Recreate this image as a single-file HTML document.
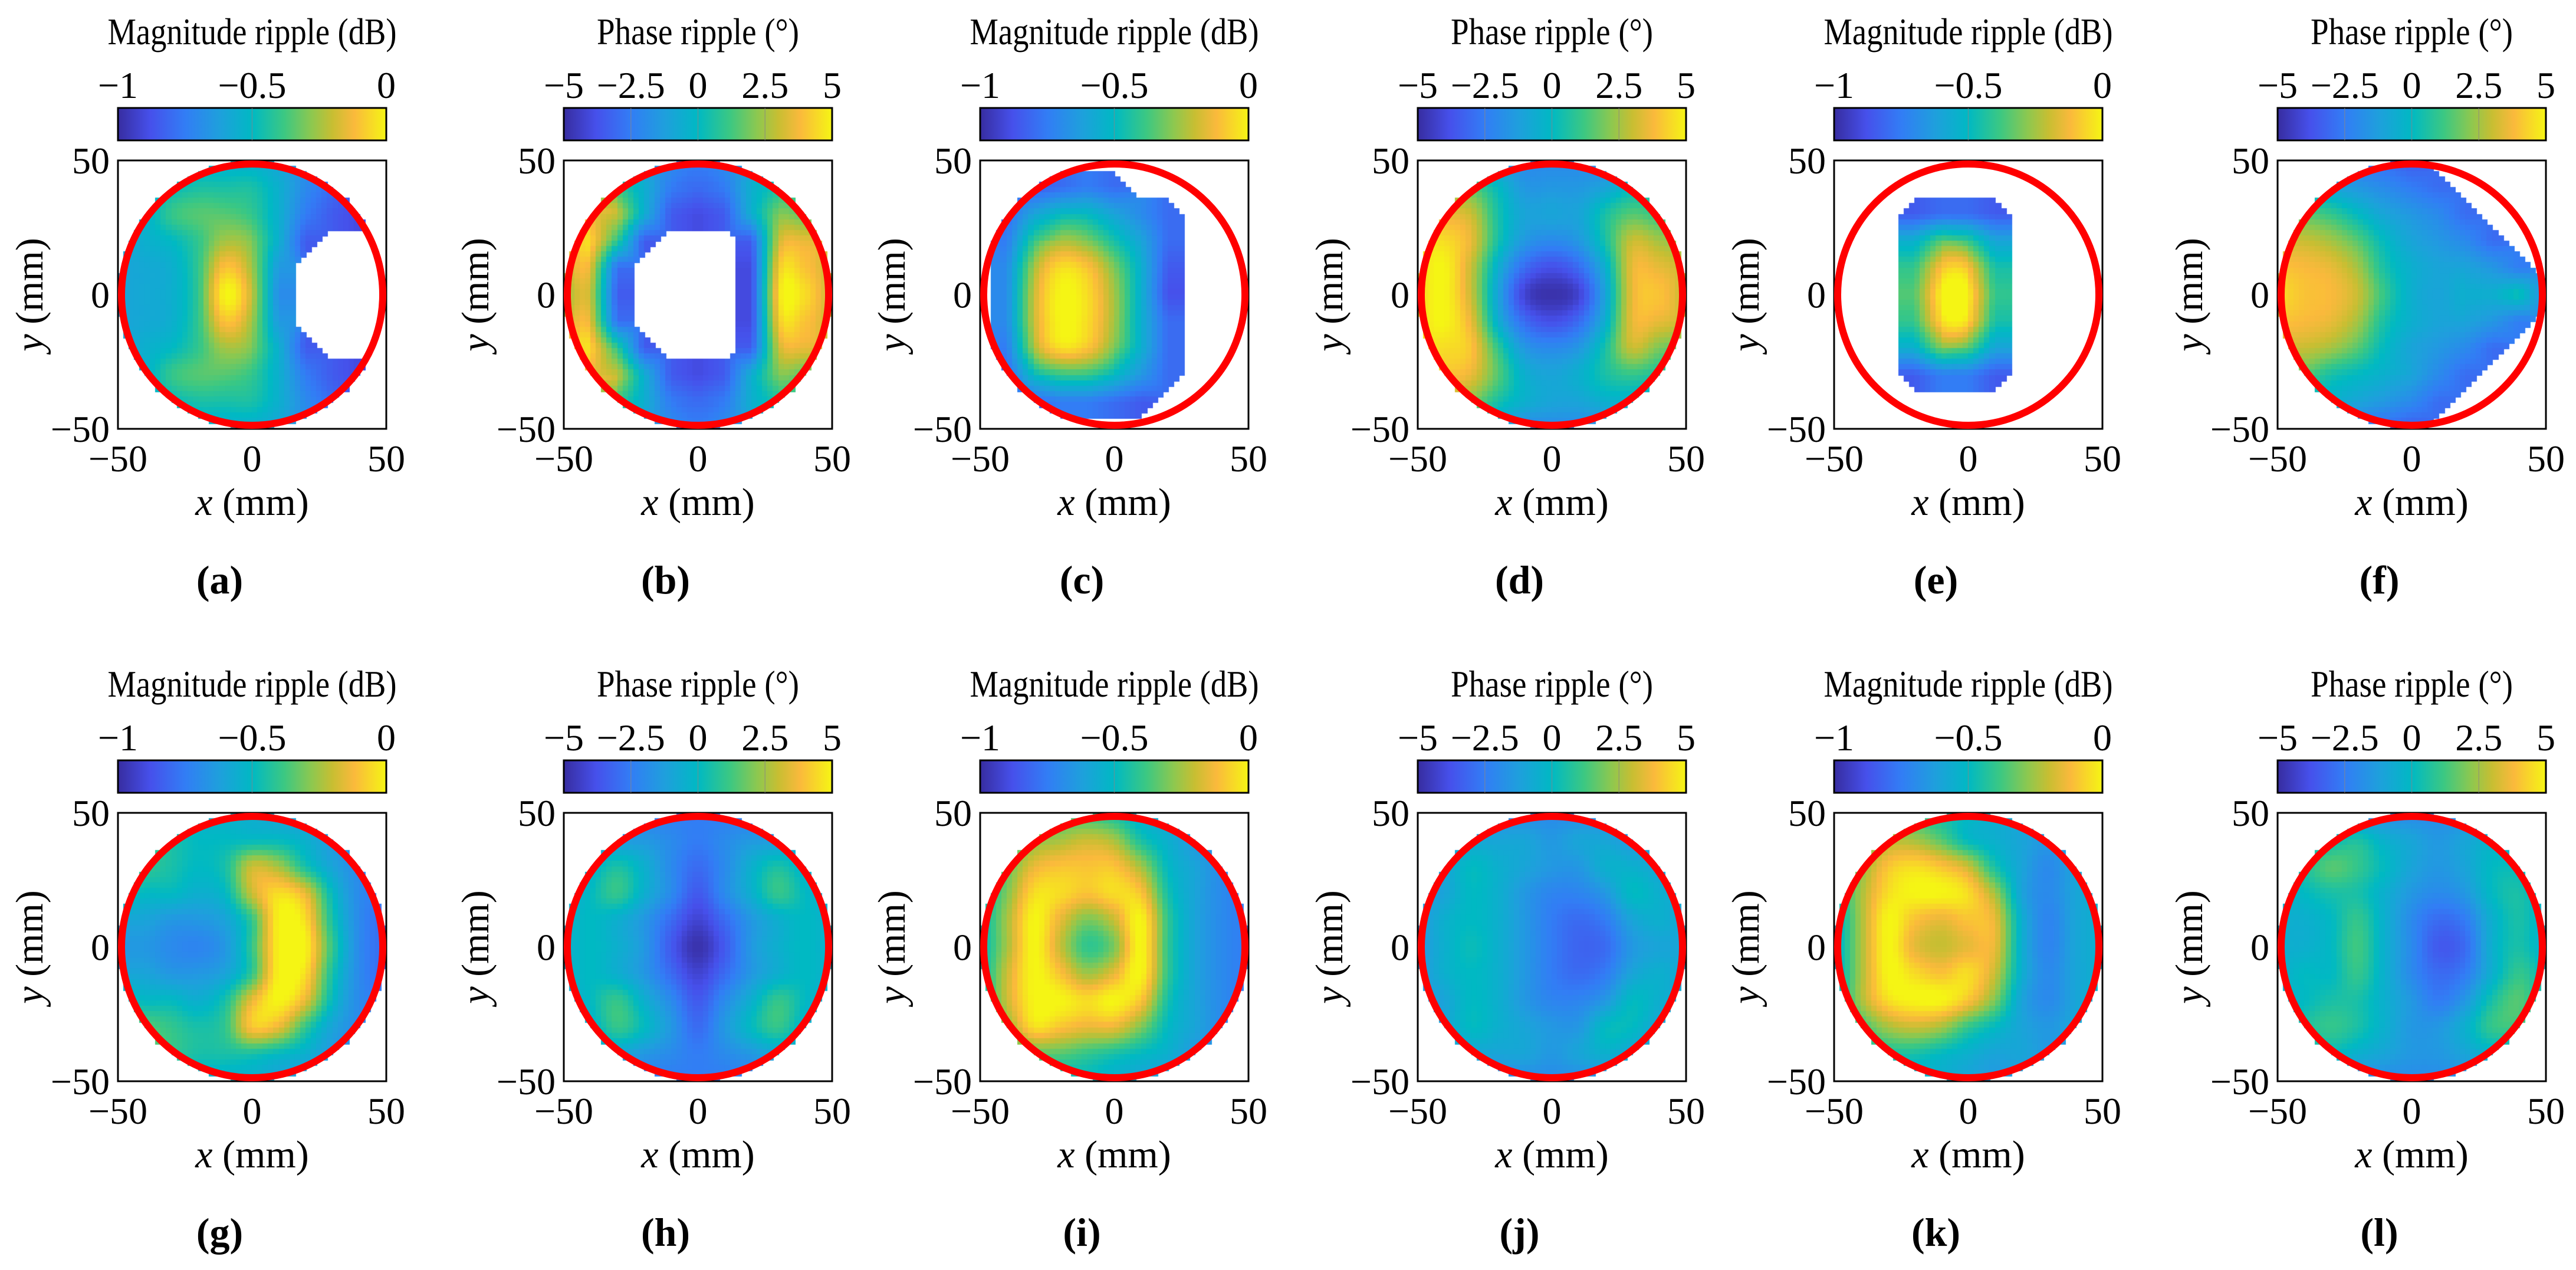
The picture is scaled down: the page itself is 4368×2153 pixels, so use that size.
<!DOCTYPE html>
<html><head><meta charset="utf-8">
<style>
html,body{margin:0;padding:0;background:#fff;}
#wrap{position:relative;width:4368px;height:2153px;overflow:hidden;background:#fff;}
canvas{position:absolute;z-index:1;}
svg{position:absolute;left:0;top:0;z-index:2;}
text{font-family:"Liberation Serif",serif;fill:#000;}
</style></head>
<body>
<div id="wrap">
<svg id="svg" width="4368" height="2153" viewBox="0 0 4368 2153">
<defs>
<linearGradient id="parula" x1="0" y1="0" x2="1" y2="0">
<stop offset="0" stop-color="rgb(55,45,160)"/>
<stop offset="0.12" stop-color="rgb(70,80,235)"/>
<stop offset="0.25" stop-color="rgb(50,125,245)"/>
<stop offset="0.38" stop-color="rgb(30,160,220)"/>
<stop offset="0.5" stop-color="rgb(0,185,195)"/>
<stop offset="0.62" stop-color="rgb(60,200,130)"/>
<stop offset="0.72" stop-color="rgb(140,200,80)"/>
<stop offset="0.8" stop-color="rgb(200,190,50)"/>
<stop offset="0.88" stop-color="rgb(250,185,60)"/>
<stop offset="1" stop-color="rgb(245,245,20)"/>
</linearGradient>
</defs>
</svg>
</div>
<script>
const _ = null;
// Grids: fraction of colour range (0 = colorbar min, 1 = colorbar max); x = -50..50 step 10, rows y = 50..-50
const gridA = [
[.35,.35,.4,.45,.45,.45,.4,.3,.25,.2,.2],
[.35,.4,.5,.55,.55,.55,.45,.3,.2,.15,.15],
[.4,.45,.6,.65,.65,.6,.45,.25,.15,.1,.1],
[.4,.45,.5,.6,.75,.7,.45,.15,_,_,_],
[.4,.42,.45,.6,.9,.75,.35,_,_,_,_],
[.4,.42,.45,.6,1,.8,.3,_,_,_,_],
[.4,.42,.45,.6,.9,.75,.35,_,_,_,_],
[.4,.45,.5,.6,.75,.7,.45,.15,_,_,_],
[.4,.45,.6,.65,.65,.6,.45,.25,.15,.1,.1],
[.35,.4,.5,.55,.55,.55,.45,.3,.2,.15,.15],
[.35,.35,.4,.45,.45,.45,.4,.3,.25,.2,.2]];
const gridB = [
[.3,.3,.3,.35,.3,.25,.3,.35,.3,.3,.3],
[.5,.55,.6,.45,.25,.2,.25,.45,.55,.5,.45],
[.75,.85,.8,.45,.15,.1,.15,.45,.7,.65,.6],
[.8,.95,.6,.15,_,_,_,.15,.8,.85,.8],
[.8,.85,.2,_,_,_,_,.1,.9,.9,.8],
[.75,.8,.15,_,_,_,_,.1,.95,.95,.8],
[.8,.85,.2,_,_,_,_,.1,.9,.9,.8],
[.85,.95,.6,.15,_,_,_,.15,.8,.85,.8],
[.75,.85,.8,.45,.15,.1,.15,.45,.7,.65,.6],
[.5,.55,.6,.45,.25,.2,.25,.45,.55,.5,.45],
[.3,.3,.3,.35,.3,.25,.3,.35,.3,.3,.3]];
const gridC = [
[_,_,_,_,_,_,_,_,_,_,_],
[_,_,.15,.2,.25,.2,_,_,_,_,_],
[_,.2,.4,.5,.5,.4,.3,.2,_,_,_],
[_,.25,.6,.75,.7,.55,.4,.2,_,_,_],
[_,.3,.75,.95,.9,.7,.45,.15,_,_,_],
[_,.3,.8,1,.95,.75,.45,.12,_,_,_],
[_,.3,.8,1,.95,.75,.45,.2,_,_,_],
[_,.25,.75,.95,.9,.7,.45,.2,_,_,_],
[_,.2,.5,.6,.6,.5,.35,.2,_,_,_],
[_,.15,.2,.25,.25,.2,.15,_,_,_,_],
[_,_,_,_,_,_,_,_,_,_,_]];
const gridD = [
[.5,.5,.45,.35,.3,.3,.3,.3,.4,.4,.4],
[.7,.7,.65,.5,.35,.35,.35,.4,.5,.5,.5],
[.85,.85,.8,.55,.4,.4,.4,.55,.65,.6,.6],
[.95,.95,.85,.55,.35,.3,.35,.55,.8,.75,.7],
[.95,1,.8,.45,.2,.12,.2,.45,.85,.85,.8],
[.95,1,.8,.4,.08,.02,.08,.4,.85,.9,.8],
[.95,1,.85,.45,.2,.12,.2,.45,.85,.85,.8],
[.95,.95,.9,.6,.35,.3,.35,.55,.8,.7,.65],
[.9,.9,.85,.65,.45,.4,.45,.55,.6,.55,.5],
[.7,.75,.7,.55,.45,.4,.4,.45,.45,.4,.4],
[.5,.5,.5,.4,.3,.3,.3,.3,.3,.3,.3]];
const gridE = [
[_,_,_,_,_,_,_,_,_,_,_],
[_,_,_,_,_,_,_,_,_,_,_],
[_,_,_,.15,.2,.2,.15,_,_,_,_],
[_,_,_,.45,.65,.6,.4,_,_,_,_],
[_,_,_,.6,.9,.9,.55,_,_,_,_],
[_,_,_,.65,1,1,.6,_,_,_,_],
[_,_,_,.6,.95,.95,.55,_,_,_,_],
[_,_,_,.45,.7,.65,.4,_,_,_,_],
[_,_,_,.15,.25,.25,.15,_,_,_,_],
[_,_,_,_,_,_,_,_,_,_,_],
[_,_,_,_,_,_,_,_,_,_,_]];
const gridF = [
[.4,.35,.3,.25,.2,.15,_,_,_,_,_],
[.5,.45,.4,.35,.3,.25,.2,_,_,_,_],
[.65,.65,.6,.5,.4,.35,.3,.2,_,_,_],
[.8,.8,.75,.65,.5,.4,.35,.3,.2,_,_],
[.9,.88,.85,.75,.55,.45,.4,.4,.35,.25,_],
[.95,.9,.88,.8,.6,.45,.4,.45,.45,.55,.3],
[.9,.88,.85,.75,.55,.45,.4,.4,.35,.25,_],
[.8,.8,.75,.65,.5,.4,.35,.3,.2,_,_],
[.65,.65,.55,.5,.45,.4,.3,.2,_,_,_],
[.5,.45,.45,.4,.35,.3,.2,_,_,_,_],
[.4,.35,.3,.25,.2,.15,_,_,_,_,_]];
const gridG = [
[.5,.5,.5,.45,.45,.45,.4,.35,.3,.3,.3],
[.6,.6,.55,.5,.5,.5,.5,.45,.35,.3,.3],
[.65,.6,.55,.5,.55,.8,.75,.55,.4,.3,.25],
[.55,.5,.5,.45,.5,.8,.95,.85,.5,.3,.25],
[.4,.4,.35,.35,.4,.6,1,.95,.55,.3,.2],
[.35,.35,.3,.28,.35,.6,1,1,.6,.3,.2],
[.4,.4,.35,.35,.4,.6,1,.95,.55,.3,.2],
[.55,.5,.5,.45,.55,.85,1,.85,.5,.3,.25],
[.65,.65,.6,.55,.6,.9,.85,.6,.4,.3,.25],
[.7,.65,.6,.55,.55,.55,.5,.45,.35,.3,.3],
[.5,.5,.5,.45,.45,.45,.4,.35,.3,.3,.3]];
const gridH = [
[.25,.25,.25,.25,.25,.25,.25,.25,.25,.25,.25],
[.3,.35,.35,.35,.3,.25,.3,.35,.35,.35,.3],
[.35,.45,.55,.45,.3,.2,.3,.45,.55,.45,.35],
[.4,.5,.6,.45,.3,.15,.3,.45,.6,.5,.4],
[.45,.5,.45,.35,.2,.08,.2,.35,.45,.5,.45],
[.45,.5,.45,.35,.15,.02,.15,.35,.45,.5,.45],
[.45,.5,.45,.35,.2,.08,.2,.35,.45,.5,.45],
[.4,.5,.6,.45,.3,.15,.3,.45,.6,.5,.4],
[.35,.45,.6,.5,.35,.2,.35,.5,.6,.45,.35],
[.3,.35,.4,.35,.3,.25,.3,.35,.4,.35,.3],
[.25,.25,.25,.25,.25,.25,.25,.25,.25,.25,.25]];
const gridI = [
[.45,.5,.55,.6,.6,.55,.45,.4,.35,.3,.3],
[.5,.55,.7,.75,.8,.75,.55,.45,.35,.3,.25],
[.5,.65,.85,.9,.9,.9,.75,.5,.4,.3,.25],
[.5,.7,.95,.95,.9,.95,.9,.55,.4,.3,.25],
[.5,.75,1,.85,.7,.8,1,.6,.4,.3,.25],
[.5,.75,1,.8,.6,.7,1,.6,.4,.3,.25],
[.5,.8,1,.9,.75,.85,1,.6,.4,.3,.25],
[.5,.8,1,1,.95,1,.9,.55,.4,.3,.25],
[.5,.7,.95,.9,.85,.85,.7,.5,.4,.3,.25],
[.5,.55,.65,.65,.6,.55,.5,.45,.35,.3,.25],
[.45,.45,.5,.5,.5,.45,.4,.35,.3,.3,.3]];
const gridJ = [
[.3,.3,.3,.3,.3,.3,.3,.3,.3,.3,.3],
[.35,.35,.4,.4,.4,.35,.4,.4,.35,.35,.3],
[.35,.4,.5,.45,.4,.35,.35,.45,.45,.4,.35],
[.35,.4,.5,.45,.35,.28,.28,.35,.5,.45,.4],
[.35,.45,.5,.45,.35,.25,.2,.25,.4,.45,.4],
[.35,.45,.52,.45,.35,.25,.18,.2,.35,.4,.4],
[.35,.45,.5,.45,.35,.25,.2,.25,.4,.45,.4],
[.35,.4,.5,.45,.35,.28,.28,.35,.5,.45,.4],
[.35,.4,.5,.45,.4,.35,.35,.5,.5,.4,.35],
[.35,.35,.4,.4,.4,.35,.4,.45,.4,.35,.3],
[.3,.3,.3,.3,.3,.3,.3,.3,.3,.3,.3]];
const gridK = [
[.45,.5,.6,.6,.55,.5,.45,.4,.35,.35,.35],
[.5,.6,.75,.75,.65,.5,.45,.4,.35,.4,.4],
[.5,.7,.9,.95,.9,.8,.55,.4,.3,.4,.45],
[.5,.75,.95,1,1,.95,.75,.4,.3,.4,.45],
[.45,.75,1,.9,.85,.9,.85,.45,.28,.4,.45],
[.45,.75,1,.85,.8,.85,.85,.45,.28,.4,.45],
[.45,.75,1,.95,.9,.95,.8,.45,.3,.4,.45],
[.45,.75,.95,1,1,.9,.7,.4,.3,.4,.45],
[.45,.6,.75,.8,.75,.6,.5,.4,.35,.4,.4],
[.4,.5,.55,.55,.5,.45,.4,.4,.35,.35,.35],
[.4,.4,.45,.45,.45,.4,.35,.35,.35,.35,.35]];
const gridL = [
[.3,.3,.3,.3,.3,.3,.3,.3,.3,.3,.3],
[.4,.45,.5,.55,.45,.4,.35,.4,.45,.4,.35],
[.45,.55,.65,.6,.5,.4,.35,.4,.5,.5,.4],
[.45,.5,.55,.55,.45,.35,.3,.35,.5,.55,.45],
[.45,.45,.5,.6,.45,.3,.2,.25,.45,.55,.45],
[.45,.45,.5,.62,.45,.3,.15,.2,.45,.55,.45],
[.45,.5,.5,.6,.45,.3,.2,.25,.45,.6,.5],
[.45,.5,.55,.55,.45,.35,.25,.35,.55,.65,.5],
[.45,.55,.6,.55,.45,.35,.35,.45,.6,.6,.45],
[.4,.45,.5,.45,.4,.35,.35,.4,.45,.4,.35],
[.3,.3,.3,.3,.3,.3,.3,.3,.3,.3,.3]];

const panelLetters = ['a','b','c','d','e','f','g','h','i','j','k','l'];
const panelKinds = ['mag','phase','mag','phase','mag','phase','mag','phase','mag','phase','mag','phase'];
const panelGrids = [gridA,gridB,gridC,gridD,gridE,gridF,gridG,gridH,gridI,gridJ,gridK,gridL];
const magTicks = ['\u22121','\u22120.5','0'];
const phaseTicks = ['\u22125','\u22122.5','0','2.5','5'];
const axisTicks = ['\u221250','0','50'];

const colLeft = [200, 956, 1662, 2404, 3110, 3862];
const rowTop = [272, 1378];
const BOX = 455;
const stops = [[0,55,45,160],[.12,70,80,235],[.25,50,125,245],[.38,30,160,220],[.5,0,185,195],[.62,60,200,130],[.72,140,200,80],[.8,200,190,50],[.88,250,185,60],[1,245,245,20]];
function cmap(v){
  v=Math.max(0,Math.min(1,v));
  for(let i=1;i<stops.length;i++){
    if(v<=stops[i][0]){const a=stops[i-1],b=stops[i];const t=(v-a[0])/(b[0]-a[0]);
      return 'rgb('+Math.round(a[1]+t*(b[1]-a[1]))+','+Math.round(a[2]+t*(b[2]-a[2]))+','+Math.round(a[3]+t*(b[3]-a[3]))+')';}
  }
  return 'rgb(245,245,20)';
}
function cr(p0,p1,p2,p3,t){return 0.5*((2*p1)+(-p0+p2)*t+(2*p0-5*p1+4*p2-p3)*t*t+(-p0+3*p1-3*p2+p3)*t*t*t);}
function gv(g,j,i){j=Math.max(0,Math.min(10,j));i=Math.max(0,Math.min(10,i));return g[j][i];}
function sample(g,x,y){
  const gx=(x+50)/10, gy=(50-y)/10;
  let i0=Math.min(9,Math.max(0,Math.floor(gx))), j0=Math.min(9,Math.max(0,Math.floor(gy)));
  const fx=Math.min(1,Math.max(0,gx-i0)), fy=Math.min(1,Math.max(0,gy-j0));
  let s=0,w=0;
  const pts=[[j0,i0,(1-fx)*(1-fy)],[j0,i0+1,fx*(1-fy)],[j0+1,i0,(1-fx)*fy],[j0+1,i0+1,fx*fy]];
  for(const p of pts){const v=g[p[0]][p[1]]; if(v!==null){s+=v*p[2]; w+=p[2];}}
  if(w<0.5) return null;
  let ok=true; const rows=[];
  for(let dj=-1;dj<=2&&ok;dj++){const r=[];for(let di=-1;di<=2;di++){const v=gv(g,j0+dj,i0+di);if(v===null){ok=false;break;}r.push(v);}
    if(ok) rows.push(cr(r[0],r[1],r[2],r[3],fx));}
  if(ok) return cr(rows[0],rows[1],rows[2],rows[3],fy);
  return s/w;
}
const NS='http://www.w3.org/2000/svg';
const svg=document.getElementById('svg');
const wrap=document.getElementById('wrap');
function mk(tag,attrs,parent,txt){const e=document.createElementNS(NS,tag);for(const k in attrs)e.setAttribute(k,attrs[k]);if(txt!==undefined)e.textContent=txt;(parent||svg).appendChild(e);return e;}

panelLetters.forEach((L,idx)=>{
  const col=idx%6,row=Math.floor(idx/6);
  const x0=colLeft[col], y0=rowTop[row], cx=x0+BOX/2, cy=y0+BOX/2;
  const kind=panelKinds[idx], grid=panelGrids[idx];
  const g=document.createElementNS(NS,'g');
  
  
  svg.appendChild(g);
  const cv=document.createElement('canvas');
  cv.width=BOX;cv.height=BOX;cv.style.left=x0+'px';cv.style.top=y0+'px';
  
  
  wrap.appendChild(cv);
  const ctx=cv.getContext('2d');
  const N=50, cs=BOX/N;
  for(let j=0;j<N;j++){for(let i=0;i<N;i++){
    const x=-50+(i+0.5)*2, y=50-(j+0.5)*2;
    if(x*x+y*y>49.5*49.5) continue;
    const v=sample(grid,x,y); if(v===null) continue;
    ctx.fillStyle=cmap(v);
    ctx.fillRect(Math.floor(i*cs),Math.floor(j*cs),Math.ceil(cs)+1,Math.ceil(cs)+1);
  }}
  const box=mk('rect',{x:x0,y:y0,width:BOX,height:BOX,fill:'none',stroke:'#000','stroke-width':3},g);
  
  
  mk('line',{x1:cx,y1:y0,x2:cx,y2:y0+12,stroke:'#888','stroke-width':2},g);
  mk('line',{x1:cx,y1:y0+BOX,x2:cx,y2:y0+BOX-12,stroke:'#888','stroke-width':2},g);
  mk('line',{x1:x0,y1:cy,x2:x0+12,y2:cy,stroke:'#888','stroke-width':2},g);
  mk('line',{x1:x0+BOX,y1:cy,x2:x0+BOX-12,y2:cy,stroke:'#888','stroke-width':2},g);
  const circ=mk('circle',{cx:cx,cy:cy,r:BOX/2-6,fill:'none',stroke:'#ff0000','stroke-width':12},g);
  
  
  const cbY=y0-89, cbH=55;
  const cb=mk('rect',{x:x0,y:cbY,width:BOX,height:cbH,fill:'url(#parula)',stroke:'#000','stroke-width':3},g);
  
  
  const ticks= kind==='mag'?magTicks:phaseTicks;
  ticks.forEach((t,k)=>{
    const tx=x0+BOX*k/(ticks.length-1);
    if(k>0&&k<ticks.length-1){mk('line',{x1:tx,y1:cbY,x2:tx,y2:cbY+cbH,stroke:'#888','stroke-width':1.5,opacity:0.6},g);}
    const te=mk('text',{x:tx,y:cbY-17,'font-size':64,'text-anchor':'middle'},g,t);
    
    
  });
  const title=mk('text',{x:cx,y:y0-197,'font-size':64,'text-anchor':'middle',textLength: kind==='mag'?490:343,lengthAdjust:'spacingAndGlyphs'},g, kind==='mag'?'Magnitude ripple (dB)':'Phase ripple (\u00B0)');
  
  
  const yt=[{t:'50',y:y0+22},{t:'0',y:cy+22},{t:'\u221250',y:y0+BOX+22}];
  yt.forEach(o=>{const e=mk('text',{x:x0-14,y:o.y,'font-size':64,'text-anchor':'end'},g,o.t);
    
    });
  axisTicks.forEach((t,k)=>{const e=mk('text',{x:x0+BOX*k/2,y:y0+BOX+72,'font-size':64,'text-anchor':'middle'},g,t);
    
    });
  const xl=mk('text',{x:cx,y:y0+BOX+146,'font-size':66,'text-anchor':'middle'},g);
  
  
  mk('tspan',{'font-style':'italic'},xl,'x');
  mk('tspan',{},xl,' (mm)');
  const yl=mk('text',{x:0,y:0,'font-size':66,'text-anchor':'middle',transform:'translate('+(x0-128)+','+cy+') rotate(-90)'},g);
  
  
  mk('tspan',{'font-style':'italic'},yl,'y');
  mk('tspan',{},yl,' (mm)');
  const pl=mk('text',{x:cx-55,y:y0+BOX+279,'font-size':68,'font-weight':'bold','text-anchor':'middle'},g,'('+L+')');
  
  
});
</script>
</body></html>
